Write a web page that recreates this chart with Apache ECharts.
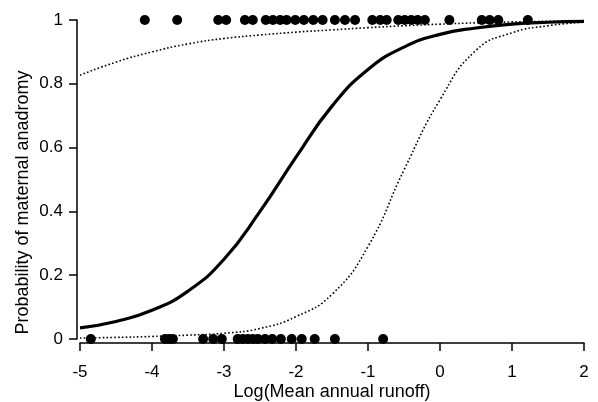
<!DOCTYPE html>
<html>
<head>
<meta charset="utf-8">
<script src="https://cdn.jsdelivr.net/npm/echarts@6/dist/echarts.min.js"></script>
<style>html,body{margin:0;padding:0;background:#fff}#c{width:598px;height:402px}</style>
</head>
<body>
<div id="c"></div>
<script>
// Observed data points (y = 1: anadromous mother; y = 0: not)
var xTop = [-4.10, -3.65, -3.08, -2.97, -2.71, -2.60, -2.42, -2.32, -2.22, -2.13, -2.01, -1.89, -1.76,
            -1.63, -1.46, -1.32, -1.18, -0.94, -0.83, -0.74, -0.58, -0.49, -0.40, -0.31, -0.21,
            0.13, 0.58, 0.69, 0.81, 1.22];
var xBottom = [-4.85, -3.82, -3.76, -3.71, -3.29, -3.15, -3.03, -2.81, -2.74, -2.67, -2.60, -2.53,
               -2.43, -2.33, -2.21, -2.06, -1.92, -1.74, -1.46, -0.79];

// Fitted curve and confidence band
var xCurve = [-5, -4.5, -4, -3.5, -3, -2.5, -2, -1.5, -1, -0.5, 0, 0.5, 1, 1.5, 2];
var fitted = [0.035, 0.055, 0.09, 0.15, 0.25, 0.40, 0.57, 0.73, 0.845, 0.915, 0.955, 0.975, 0.987, 0.993, 0.996];
var upperBand = [0.827, 0.868, 0.900, 0.925, 0.942, 0.953, 0.962, 0.969, 0.976, 0.982, 0.987, 0.991, 0.994, 0.996, 0.998];
var lowerBand = [0.003, 0.005, 0.008, 0.012, 0.018, 0.033, 0.07, 0.14, 0.29, 0.53, 0.75, 0.905, 0.96, 0.982, 0.993];

var xTicks = [-5, -4, -3, -2, -1, 0, 1, 2];
var yTicks = [0, 0.2, 0.4, 0.6, 0.8, 1];

function pairs(xs, ys) { return xs.map(function (x, i) { return [x, ys[i]]; }); }
function constPairs(xs, y) { return xs.map(function (x) { return [x, y]; }); }

var font = 'Liberation Sans, Arial, Helvetica, sans-serif';
var chart = echarts.init(document.getElementById('c'), null, {renderer: 'canvas'});
chart.setOption({
  animation: false,
  backgroundColor: '#fff',
  grid: {left: 80, right: 14, top: 20, bottom: 63, containLabel: false, outerBoundsMode: 'none'},
  xAxis: {
    type: 'value', min: xTicks[0], max: xTicks[xTicks.length - 1], interval: 1, offset: 4,
    name: 'Log(Mean annual runoff)', nameLocation: 'middle', nameGap: 40, nameMoveOverlap: false,
    nameTextStyle: {color: '#000', fontSize: 18, fontFamily: font},
    axisLine: {onZero: false, lineStyle: {color: '#000', width: 1.5}},
    axisTick: {length: 8, lineStyle: {color: '#000', width: 1.5}},
    axisLabel: {color: '#000', fontSize: 17, fontFamily: font, margin: 21},
    splitLine: {show: false}
  },
  yAxis: {
    type: 'value', min: yTicks[0], max: yTicks[yTicks.length - 1], interval: 0.2, offset: 3,
    name: 'Probability of maternal anadromy', nameLocation: 'middle', nameGap: 45, nameMoveOverlap: false,
    nameTextStyle: {color: '#000', fontSize: 18, fontFamily: font, padding: [0, 46, 0, 0]},
    axisLine: {onZero: false, lineStyle: {color: '#000', width: 1.5}},
    axisTick: {length: 8, lineStyle: {color: '#000', width: 1.5}},
    axisLabel: {color: '#000', fontSize: 17, fontFamily: font, margin: 14},
    splitLine: {show: false}
  },
  series: [
    {type: 'line', data: pairs(xCurve, upperBand), smooth: true, symbol: 'none', clip: false,
     lineStyle: {color: '#000', width: 1.6, type: [1.6, 2.2]}},
    {type: 'line', data: pairs(xCurve, lowerBand), smooth: true, symbol: 'none', clip: false,
     lineStyle: {color: '#000', width: 1.6, type: [1.6, 2.2]}},
    {type: 'line', data: pairs(xCurve, fitted), smooth: true, symbol: 'none', clip: false,
     lineStyle: {color: '#000', width: 3.2}},
    {type: 'scatter', data: constPairs(xTop, 1), symbol: 'circle', symbolSize: 10, clip: false,
     itemStyle: {color: '#000', opacity: 1}},
    {type: 'scatter', data: constPairs(xBottom, 0), symbol: 'circle', symbolSize: 10, clip: false,
     itemStyle: {color: '#000', opacity: 1}}
  ]
});
</script>
</body>
</html>
